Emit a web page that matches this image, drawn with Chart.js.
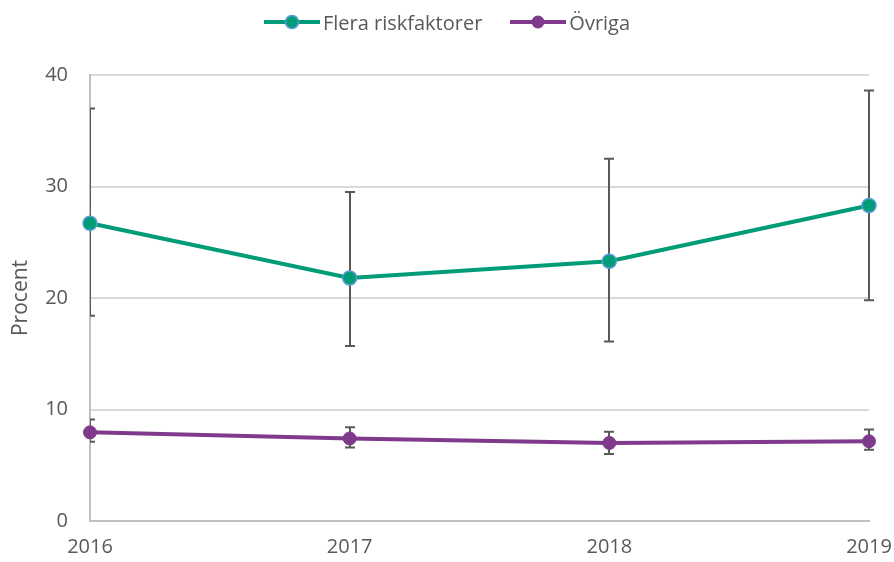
<!DOCTYPE html>
<html>
<head>
<meta charset="utf-8">
<script src="https://cdn.jsdelivr.net/npm/chart.js@4"></script>
<style>
    html, body { margin: 0; padding: 0; background: #fff; }
    .wrap { position: relative; width: 894px; height: 562px; }
    .legend {
        position: absolute; top: 8px; left: 0; width: 894px;
        display: flex; justify-content: center; gap: 28px;
        font-family: "Open Sans", sans-serif; font-size: 20px; color: #595959;
    }
    .legend .item { display: flex; align-items: center; }
    .legend svg { margin-right: 3px; }
</style>
</head>
<body>
<div class="wrap">
    <div class="legend">
        <div class="item">
            <svg width="56" height="28"><line x1="0" y1="14" x2="56" y2="14" stroke="#009B77" stroke-width="4"/><circle cx="28" cy="14" r="6.5" fill="#009B77" stroke="#5B9BD5" stroke-width="1.5"/></svg>
            <span>Flera riskfaktorer</span>
        </div>
        <div class="item">
            <svg width="56" height="28"><line x1="0" y1="14" x2="56" y2="14" stroke="#7F3A8C" stroke-width="4"/><circle cx="28" cy="14" r="6.5" fill="#7F3A8C"/></svg>
            <span>Övriga</span>
        </div>
    </div>
    <canvas id="chart" width="894" height="562"></canvas>
</div>
<script>
// Data
const years = ['2016', '2017', '2018', '2019'];
const flera = [26.7, 21.8, 23.3, 28.3];
const fleraLow = [18.4, 15.7, 16.1, 19.8];
const fleraHigh = [37.0, 29.5, 32.5, 38.6];
const ovriga = [7.95, 7.4, 7.0, 7.15];
const ovrigaLow = [7.1, 6.6, 6.0, 6.4];
const ovrigaHigh = [9.1, 8.4, 8.0, 8.2];
const yTicks = [0, 10, 20, 30, 40];

const textColor = '#595959';
const fontFamily = '"Open Sans", sans-serif';

// Error bars drawn behind the lines
const errorBars = {
    id: 'errorBars',
    beforeDatasetsDraw(chart) {
        const ctx = chart.ctx;
        const y = chart.scales.y;
        const area = chart.chartArea;
        ctx.save();
        ctx.beginPath();
        ctx.rect(area.left, 0, chart.width - area.left, chart.height);
        ctx.clip();
        ctx.strokeStyle = '#595959';
        ctx.lineWidth = 2;
        chart.data.datasets.forEach((ds, i) => {
            const meta = chart.getDatasetMeta(i);
            meta.data.forEach((pt, j) => {
                const top = y.getPixelForValue(ds.errHigh[j]);
                const bot = y.getPixelForValue(ds.errLow[j]);
                const x = Math.round(pt.x);
                ctx.beginPath();
                ctx.moveTo(x, top);
                ctx.lineTo(x, bot);
                ctx.moveTo(x - 5, top);
                ctx.lineTo(x + 5, top);
                ctx.moveTo(x - 5, bot);
                ctx.lineTo(x + 5, bot);
                ctx.stroke();
            });
        });
        ctx.restore();
    }
};

const ctx = document.getElementById('chart').getContext('2d');
new Chart(ctx, {
    type: 'line',
    data: {
        labels: years,
        datasets: [
            {
                label: 'Flera riskfaktorer',
                data: flera,
                errLow: fleraLow,
                errHigh: fleraHigh,
                borderColor: '#009B77',
                backgroundColor: '#009B77',
                pointBorderColor: '#5B9BD5',
                pointBorderWidth: 1.5,
                pointRadius: 7,
                borderWidth: 4,
                tension: 0,
                clip: false
            },
            {
                label: 'Övriga',
                data: ovriga,
                errLow: ovrigaLow,
                errHigh: ovrigaHigh,
                borderColor: '#7F3A8C',
                backgroundColor: '#7F3A8C',
                pointBorderColor: '#7F3A8C',
                pointBorderWidth: 1,
                pointRadius: 6.5,
                borderWidth: 4,
                tension: 0,
                clip: false
            }
        ]
    },
    options: {
        responsive: false,
        animation: false,
        layout: { padding: { top: 75, left: 0, right: 0, bottom: 0 } },
        plugins: {
            legend: { display: false },
            tooltip: { enabled: false }
        },
        scales: {
            x: {
                offset: false,
                grid: { display: false, drawTicks: false },
                border: { display: true, color: '#BFBFBF', width: 2 },
                ticks: { color: textColor, padding: 14, maxRotation: 0, font: { family: fontFamily, size: 20 } },
                afterFit: s => {
                    s.height = 41;
                    s.paddingLeft = 0;
                    s.paddingRight = 25;
                }
            },
            y: {
                min: 0,
                max: 40,
                afterBuildTicks: s => { s.ticks = yTicks.map(v => ({ value: v })); },
                grid: { color: '#D9D9D9', lineWidth: 2, drawTicks: false },
                border: { display: true, color: '#BFBFBF', width: 2 },
                ticks: { color: textColor, padding: 22, font: { family: fontFamily, size: 20 } },
                title: {
                    display: true,
                    text: 'Procent',
                    color: textColor,
                    padding: { top: 8, bottom: 0 },
                    font: { family: fontFamily, size: 21 }
                },
                afterFit: s => { s.width = 90; }
            }
        }
    },
    plugins: [errorBars]
});
</script>
</body>
</html>
